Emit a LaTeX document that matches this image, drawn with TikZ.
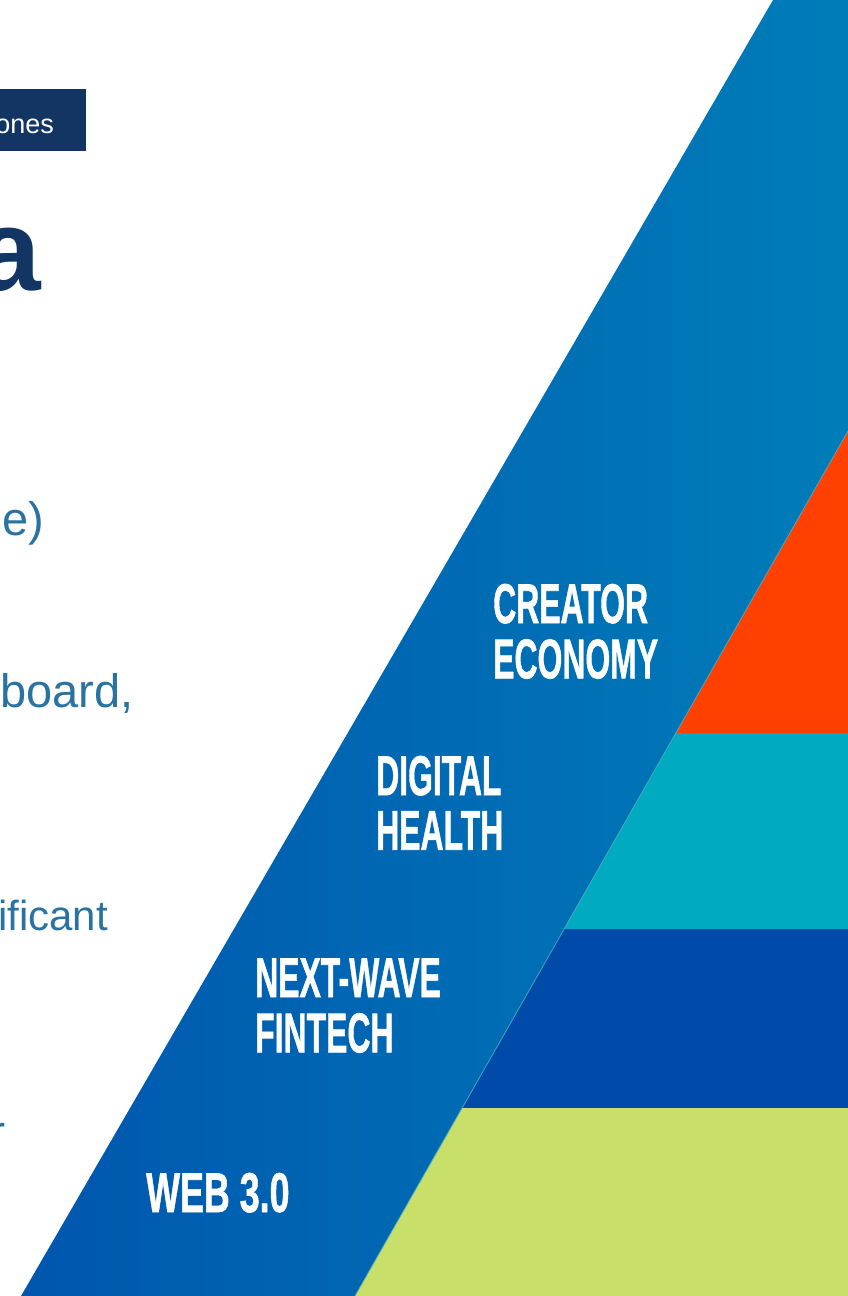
\documentclass[tikz,border=0pt]{standalone}
\usepackage{fontspec}
\setmainfont{Liberation Sans}
\newfontfamily\lblfont[FakeBold=1.2]{Liberation Sans}
\usepackage{graphicx}
\definecolor{navy}{RGB}{19,53,99}
\definecolor{bodyblue}{RGB}{42,115,160}
\definecolor{bandL}{RGB}{0,86,174}
\definecolor{bandR}{RGB}{0,125,185}
\definecolor{pOrange}{RGB}{255,64,0}
\definecolor{pCyan}{RGB}{0,170,192}
\definecolor{pDark}{RGB}{0,74,170}
\definecolor{pLime}{RGB}{200,224,106}
\definecolor{edgeline}{RGB}{80,175,190}
\newcommand\condlbl[2]{\scalebox{#1}[1]{\begin{tabular}[t]{@{}l@{}}#2\end{tabular}}}
\begin{document}
\begin{tikzpicture}[x=1pt,y=-1pt,
  frag/.style={inner sep=0pt, text=bodyblue, font=\fontsize{47}{54}\selectfont, anchor=base east},
  lbl/.style={inner sep=0pt, text=white, font=\lblfont\bfseries\fontsize{56}{54}\selectfont, anchor=base west},
  layer/.style={draw=none}
]
\useasboundingbox (0,0) rectangle (848,1296);
\clip (0,0) rectangle (848,1296);
\fill[white] (0,0) rectangle (848,1296);

% blue diagonal band
\coordinate (bandTL) at (773,0);
\coordinate (bandTR) at (848,0);
\coordinate (bandBR) at (848,1296);
\coordinate (bandBL) at (21,1296);
\shade[left color=bandL,right color=bandR] (bandTL) -- (bandTR) -- (bandBR) -- (bandBL) -- cycle;

% pyramid edge points
\coordinate (p0) at (848,431);
\coordinate (p1) at (676,733);
\coordinate (p2) at (564,929);
\coordinate (p3) at (462,1108);
\coordinate (p4) at (355,1296);
\coordinate (r1) at (848,733);
\coordinate (r2) at (848,929);
\coordinate (r3) at (848,1108);
\coordinate (r4) at (848,1296);

\fill[pOrange] (p0) -- (p1) -- (r1) -- cycle;
\fill[pCyan] (p1) -- (p2) -- (r2) -- (r1) -- cycle;
\fill[pDark] (p2) -- (p3) -- (r3) -- (r2) -- cycle;
\fill[pLime] (p3) -- (p4) -- (r4) -- (r3) -- cycle;
\draw[edgeline, line width=0.9pt, opacity=0.8] (p0) -- (p4);

% labels in the band
\node[lbl] (creator) at (493,623) {\condlbl{0.57}{CREATOR\\ECONOMY}};
\node[lbl] (health) at (376,795) {\condlbl{0.57}{DIGITAL\\HEALTH}};
\node[lbl] (fintech) at (255,997) {\condlbl{0.57}{NEXT-WAVE\\FINTECH}};
\node[lbl] (web) at (146,1212) {\condlbl{0.64}{WEB 3.0}};

% left side fragments
\fill[navy] (-1,89) rectangle (86,151);
\node[inner sep=0pt, text=white, font=\fontsize{27}{30}\selectfont, anchor=base east] (tag) at (54,133) {ones};
\node[inner sep=0pt, text=navy, font=\bfseries\fontsize{116}{120}\selectfont, anchor=base east] (title) at (41,290) {a};
\node[frag] (f1) at (44,535) {e)};
\node[frag] (f2) at (134,707) {board,};
\node[frag, font=\fontsize{42}{50}\selectfont] (f3) at (108,930) {ificant};
\node[inner sep=0pt, text=bodyblue, font=\fontsize{45}{54}\selectfont, anchor=base west] (f4) at (-10,1147) {r};
\end{tikzpicture}
\end{document}
